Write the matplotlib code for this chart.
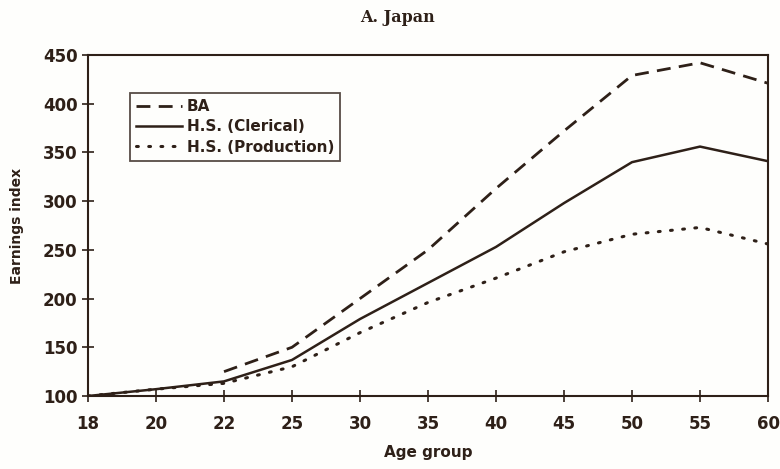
import matplotlib.pyplot as plt
import numpy as np

ages = ['18', '20', '22', '25', '30', '35', '40', '45', '50', '55', '60']
ba = [np.nan, np.nan, 125, 150, 200, 250, 313, 372, 429, 442, 421]
clerical = [100, 107, 115, 137, 179, 216, 253, 298, 340, 356, 341]
production = [100, 107, 113, 130, 165, 196, 221, 248, 266, 273, 256]

ink = '#2e2018'
bg = '#fefefc'
plt.rcParams['font.family'] = ['DejaVu Sans']

fig = plt.figure(figsize=(7.8, 4.69), dpi=100, facecolor=bg)
ax = fig.add_axes([88/780, 1-396/469, 680/780, 341/469])
ax.set_facecolor(bg)

x = np.arange(len(ages))
ax.plot(x, ba, color=ink, lw=2, linestyle=(0, (5, 3)), label='BA')
ax.plot(x, clerical, color=ink, lw=1.8, label='H.S. (Clerical)')
ax.plot(x, production, color=ink, lw=2.2, linestyle=(0, (0.6, 3.4)),
        dash_capstyle='round', label='H.S. (Production)')

ax.set_xlim(0, len(ages) - 1)
ax.set_ylim(100, 450)
ax.set_xticks(x)
ax.set_xticklabels(ages)
ax.set_yticks(np.arange(100, 451, 50))
for s in ax.spines.values():
    s.set_color(ink)
    s.set_linewidth(1.5)
ax.tick_params(colors=ink, labelsize=12, direction='inout', length=8, width=1.2)
ax.tick_params(axis='x', pad=10)
for lab in ax.get_xticklabels() + ax.get_yticklabels():
    lab.set_fontweight('semibold')

ax.set_xlabel('Age group', fontsize=11, fontweight='semibold', color=ink, labelpad=8)
ax.set_ylabel('Earnings index', fontsize=10, fontweight='semibold', color=ink, labelpad=14)
fig.text(397/780, 1-18/469, 'A. Japan', fontsize=11.5, fontweight='bold',
         family='DejaVu Serif', color=ink, ha='center', va='center')

leg = ax.legend(loc='upper left', bbox_to_anchor=(42/680, 1-38/341),
                frameon=True, fancybox=False, handlelength=3.0,
                handletextpad=0.3, borderpad=0.4, labelspacing=0.35,
                borderaxespad=0, prop={'size': 11, 'weight': 'semibold'})
leg.get_frame().set_edgecolor(ink)
leg.get_frame().set_linewidth(1.3)
leg.get_frame().set_facecolor(bg)
for t in leg.get_texts():
    t.set_color(ink)

fig.savefig('out.png', dpi=100, facecolor=fig.get_facecolor())
